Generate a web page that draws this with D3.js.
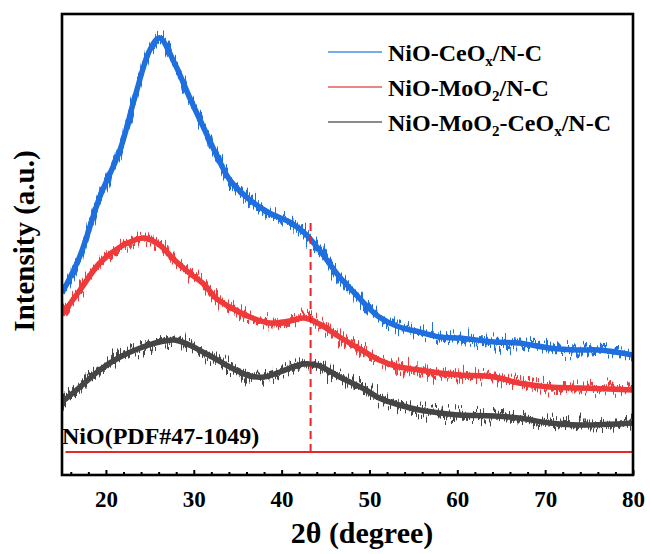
<!DOCTYPE html>
<html>
<head>
<meta charset="utf-8">
<script src="https://cdn.jsdelivr.net/npm/d3@7"></script>
<style>
  html, body { margin: 0; padding: 0; background: #fff; }
  svg { display: block; }
  text { font-family: "Liberation Serif", "Times New Roman", serif; font-weight: bold; fill: #000; }
</style>
</head>
<body>
<svg id="chart" width="650" height="554"></svg>
<script>
// XRD patterns, 2θ in degrees, intensity in arbitrary units (offset stacked)
const twoThetaCeOx = [15, 17, 19.3, 21.6, 23.3, 25, 26.1, 27.8, 29.5, 31.25, 32.7, 34.1, 36.4, 38.6, 40.9, 42.6, 44.3, 46.6, 48.3, 49.8, 51.1, 53.4, 55.7, 58, 60.2, 64.2, 67, 70.5, 73.9, 76.1, 80];
const intensityCeOx = [182, 218, 278, 325, 378, 425, 437, 412, 378, 345, 318, 295, 275, 262, 253, 242, 225, 198, 182, 168, 158, 148, 143, 138, 137, 133, 132, 127, 125, 125, 120];

const twoThetaMoO2 = [15, 17.05, 19.3, 21.6, 23.3, 24.4, 26.1, 27.8, 29.5, 31.25, 32.5, 34.1, 36.4, 38.6, 40.9, 42.6, 44.3, 46.6, 48.9, 51.1, 53.4, 55.7, 58, 60.2, 64.2, 67, 70.5, 73.9, 80];
const intensityMoO2 = [160, 185, 212, 228, 235, 237, 230, 215, 202, 190, 177, 168, 158, 152, 154, 157, 151, 138, 126, 115, 108, 105, 102, 100, 98, 92, 88, 87, 85];

const twoThetaMoO2CeOx = [15, 17.05, 19.3, 21.6, 23.9, 26.1, 27.8, 29.5, 31.25, 32.7, 34.1, 36.4, 38, 39.8, 42.5, 44.3, 46.6, 49.4, 51.1, 53.4, 55.7, 58, 60.2, 64.2, 67, 70.5, 73.9, 80];
const intensityMoO2CeOx = [73, 88, 105, 118, 127, 133, 135, 130, 122, 115, 108, 99, 98, 103, 111, 109, 98, 86, 77, 70, 65, 62, 60, 59, 57, 52, 50, 52];

// Standard card reference: baseline and the NiO reflection position
const nioBaseline = 23;
const nioPeakTheta = [43.3];
const nioPeakTop = [252];

const xTicks = [20, 30, 40, 50, 60, 70, 80];
const xMinorTicks = [16, 18, 22, 24, 26, 28, 32, 34, 36, 38, 42, 44, 46, 48, 52, 54, 56, 58, 62, 64, 66, 68, 72, 74, 76, 78];

const seriesColors = ["#1f6fde", "#ee3a3a", "#454545"];
const legendColors = ["#4a8ee0", "#e25c5c", "#666666"];

const svg = d3.select("#chart");
const L = 62, R = 633, T = 14, B = 475;

const x = d3.scaleLinear().domain([15, 80]).range([L, R]);
const y = d3.scaleLinear().domain([0, 461]).range([B, T]);

// Fine-grained jitter texture for the recorded scans
const defs = svg.append("defs");
const f = defs.append("filter").attr("id", "scanNoise")
  .attr("filterUnits", "userSpaceOnUse")
  .attr("color-interpolation-filters", "sRGB")
  .attr("x", 0).attr("y", 0).attr("width", 650).attr("height", 554);
f.append("feTurbulence").attr("type", "fractalNoise")
  .attr("baseFrequency", "0.6 0.03").attr("numOctaves", 2).attr("seed", 7).attr("result", "n");
f.append("feColorMatrix").attr("in", "n").attr("type", "matrix")
  .attr("values", "0 0 0 0 0.5  0 1 0 0 0  0 0 1 0 0  0 0 0 0 1").attr("result", "m");
f.append("feDisplacementMap").attr("in", "SourceGraphic").attr("in2", "m")
  .attr("scale", 30).attr("xChannelSelector", "R").attr("yChannelSelector", "G");

defs.append("clipPath").attr("id", "plotClip")
  .append("rect").attr("x", L).attr("y", T).attr("width", R - L).attr("height", B - T);

const line = d3.line().x(d => x(d[0])).y(d => y(d[1])).curve(d3.curveCatmullRom.alpha(0.5));

const series = [
  d3.zip(twoThetaCeOx, intensityCeOx),
  d3.zip(twoThetaMoO2, intensityMoO2),
  d3.zip(twoThetaMoO2CeOx, intensityMoO2CeOx)
];

const plot = svg.append("g").attr("clip-path", "url(#plotClip)");

// Reference card baseline
plot.append("line")
  .attr("x1", x(15.4)).attr("x2", R)
  .attr("y1", y(nioBaseline)).attr("y2", y(nioBaseline))
  .attr("stroke", "#e8262a").attr("stroke-width", 2);

// Solid core of each scan, then the jittered trace over it
const cores = plot.append("g");
cores.selectAll("path").data(series).enter().append("path")
  .attr("d", line)
  .attr("fill", "none")
  .attr("stroke", (d, i) => seriesColors[i])
  .attr("stroke-width", 5.5);

const scans = plot.append("g").attr("filter", "url(#scanNoise)");
scans.selectAll("path").data(series).enter().append("path")
  .attr("d", line)
  .attr("fill", "none")
  .attr("stroke", (d, i) => seriesColors[i])
  .attr("stroke-width", 5)
  .attr("stroke-linejoin", "round");

// NiO reflection marker, drawn over the scans
plot.selectAll("line.peak").data(nioPeakTheta).enter().append("line")
  .attr("class", "peak")
  .attr("x1", d => x(d)).attr("x2", d => x(d))
  .attr("y1", y(nioBaseline)).attr("y2", (d, i) => y(nioPeakTop[i]))
  .attr("stroke", "#e8262a").attr("stroke-width", 2)
  .attr("stroke-dasharray", "8,5");

// Axes
const xAxis = svg.append("g").attr("transform", `translate(0,${B})`)
  .call(d3.axisBottom(x).tickValues(xTicks).tickSizeInner(-5).tickSizeOuter(0).tickPadding(16).tickFormat(d3.format("d")));
xAxis.select(".domain").remove();
xAxis.selectAll(".tick line").attr("stroke", "#000").attr("stroke-width", 2);
xAxis.selectAll(".tick text").attr("font-size", 23).attr("font-family", null);

const xMinor = svg.append("g").attr("transform", `translate(0,${B})`)
  .call(d3.axisBottom(x).tickValues(xMinorTicks).tickSizeInner(-3).tickSizeOuter(0).tickFormat(""));
xMinor.select(".domain").remove();
xMinor.selectAll(".tick line").attr("stroke", "#000").attr("stroke-width", 2);

// Frame
svg.append("rect")
  .attr("x", L).attr("y", T).attr("width", R - L).attr("height", B - T)
  .attr("fill", "none").attr("stroke", "#000").attr("stroke-width", 2.6);

// Axis titles
svg.append("text").attr("x", 362).attr("y", 543).attr("text-anchor", "middle")
  .attr("font-size", 30).text("2θ (degree)");
svg.append("text").attr("transform", "translate(34,241) rotate(-90)")
  .attr("text-anchor", "middle").attr("font-size", 29).text("Intensity (a.u.)");

// Reference card label
svg.append("text").attr("x", 62).attr("y", 444).attr("font-size", 24).text("NiO(PDF#47-1049)");

// Legend
const legendRows = [
  [["NiO-CeO", ""], ["x", "sub"], ["/N-C", ""]],
  [["NiO-MoO", ""], ["2", "sub"], ["/N-C", ""]],
  [["NiO-MoO", ""], ["2", "sub"], ["-CeO", ""], ["x", "sub"], ["/N-C", ""]]
];
const legendY = [52, 87, 122];
const lg = svg.append("g");
legendRows.forEach((parts, i) => {
  lg.append("line").attr("x1", 328).attr("x2", 382).attr("y1", legendY[i]).attr("y2", legendY[i])
    .attr("stroke", legendColors[i]).attr("stroke-width", 1.5);
  const t = lg.append("text").attr("x", 388).attr("y", legendY[i] + 9).attr("font-size", 24);
  parts.forEach(([s, kind], k) => {
    const ts = t.append("tspan").text(s);
    if (kind === "sub") ts.attr("font-size", 15).attr("dy", 5);
    else if (k > 0) ts.attr("dy", -5);
  });
});
</script>
</body>
</html>
